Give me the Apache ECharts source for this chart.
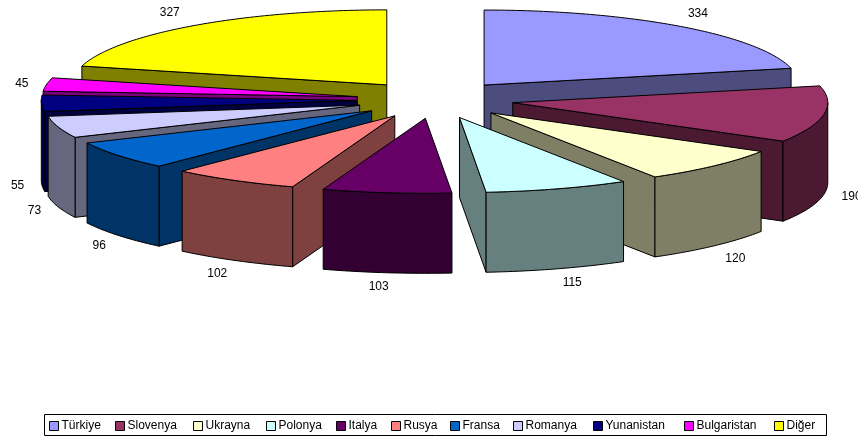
<!DOCTYPE html>
<html>
<head>
<meta charset="utf-8">
<style>html,body{margin:0;padding:0;background:#fff}#c{width:858px;height:439px}</style>
<script src="https://cdn.jsdelivr.net/npm/echarts@6/dist/echarts.min.js"></script>
</head>
<body>
<div id="c"></div>
<script>
const categories = ['Türkiye','Slovenya','Ukrayna','Polonya','Italya','Rusya','Fransa','Romanya','Yunanistan','Bulgaristan','Diğer'];
const values = [334,190,120,115,103,102,96,73,55,45,327];
const colors = ['#9999FF','#993366','#FFFFCC','#CCFFFF','#660066','#FF8080','#0066CC','#CCCCFF','#000080','#FF00FF','#FFFF00'];
const legendLeft = [49,115,193,266,336,391,450,513,593,684,774];
const labelNudgeX = [2,3,3,7,-5,-4,1,0,1,0,-9];
const labelNudgeY = [-2,0,3,1,0,1,2,0,2,1,-2];

const FONT = '"Liberation Sans", Arial, sans-serif';
const CX = 435, CY = 99.7, RX = 315, RY = 75, DEPTH = 80, EXPLODE = 0.25;
const RAD = Math.PI / 180;
const total = values.reduce((a, b) => a + b, 0);

let cum = 0;
const slices = values.map((v, i) => {
  const a0 = cum / total * 360;
  cum += v;
  const a1 = cum / total * 360;
  const mid = (a0 + a1) / 2;
  return {
    i, a0, a1, mid,
    ax: CX + RX * EXPLODE * Math.sin(mid * RAD),
    ay: CY - RY * EXPLODE * Math.cos(mid * RAD)
  };
});

function halve(hex) {
  const n = parseInt(hex.slice(1), 16);
  const f = c => Math.floor(c / 2);
  return 'rgb(' + f(n >> 16 & 255) + ',' + f(n >> 8 & 255) + ',' + f(n & 255) + ')';
}
function rim(s, a, dy) {
  return [s.ax + RX * Math.sin(a * RAD), s.ay - RY * Math.cos(a * RAD) + (dy || 0)];
}
function arc(s, from, to, dy) {
  const pts = [], n = Math.max(2, Math.ceil(Math.abs(to - from)));
  for (let k = 0; k <= n; k++) pts.push(rim(s, from + (to - from) * k / n, dy));
  return pts;
}
function poly(points, fill, z2) {
  return {
    type: 'polygon', z2,
    shape: { points },
    style: { fill, stroke: '#000', lineWidth: 1, lineJoin: 'round' }
  };
}
function radialFace(s, a, fill) {
  const p = rim(s, a), q = rim(s, a, DEPTH);
  return poly([[s.ax, s.ay], p, q, [s.ax, s.ay + DEPTH]], fill, 1);
}

function drawSlice(s) {
  const wall = halve(colors[s.i]);
  const children = [];
  if (Math.sin(s.a0 * RAD) < 0) children.push(radialFace(s, s.a0, wall));
  if (Math.sin(s.a1 * RAD) > 0) children.push(radialFace(s, s.a1, wall));
  const w0 = Math.max(s.a0, 90), w1 = Math.min(s.a1, 270);
  if (w1 > w0) {
    children.push(poly(arc(s, w0, w1).concat(arc(s, w1, w0, DEPTH)), wall, 2));
  }
  children.push(poly([[s.ax, s.ay]].concat(arc(s, s.a0, s.a1)), colors[s.i], 3));
  const edge = rim(s, s.mid, Math.cos(s.mid * RAD) < 0 ? DEPTH : 0);
  children.push({
    type: 'text', z2: 4,
    style: {
      text: String(values[s.i]),
      x: edge[0] + 25 * Math.sin(s.mid * RAD) + labelNudgeX[s.i],
      y: edge[1] - 14 * Math.cos(s.mid * RAD) + labelNudgeY[s.i],
      align: 'center', verticalAlign: 'middle',
      fill: '#000', font: '12px ' + FONT
    }
  });
  return { type: 'group', children };
}

const drawOrder = slices.slice().sort((a, b) => a.ay - b.ay);

const chart = echarts.init(document.getElementById('c'), null, { renderer: 'canvas' });
chart.setOption({
  animation: false,
  backgroundColor: '#fff',
  graphic: [{
    type: 'rect', z: 0, silent: true,
    shape: { x: 44.5, y: 414.5, width: 782, height: 21 },
    style: { fill: '#fff', stroke: '#000', lineWidth: 1 }
  }],
  legend: categories.map((name, i) => ({
    data: [name],
    left: legendLeft[i],
    top: 420,
    padding: 0,
    z: 5,
    icon: 'rect',
    itemWidth: 9,
    itemHeight: 9,
    itemGap: 3,
    selectedMode: false,
    itemStyle: { borderColor: '#000', borderWidth: 1 },
    textStyle: { fontFamily: FONT, fontSize: 12, color: '#000', padding: [0, 0, 0, -2] }
  })),
  series: drawOrder.map((s, rank) => ({
    type: 'custom',
    name: categories[s.i],
    coordinateSystem: 'none',
    z: 2 + rank,
    silent: true,
    itemStyle: { color: colors[s.i] },
    data: [[values[s.i]]],
    renderItem: () => drawSlice(s)
  }))
});
</script>
</body>
</html>
